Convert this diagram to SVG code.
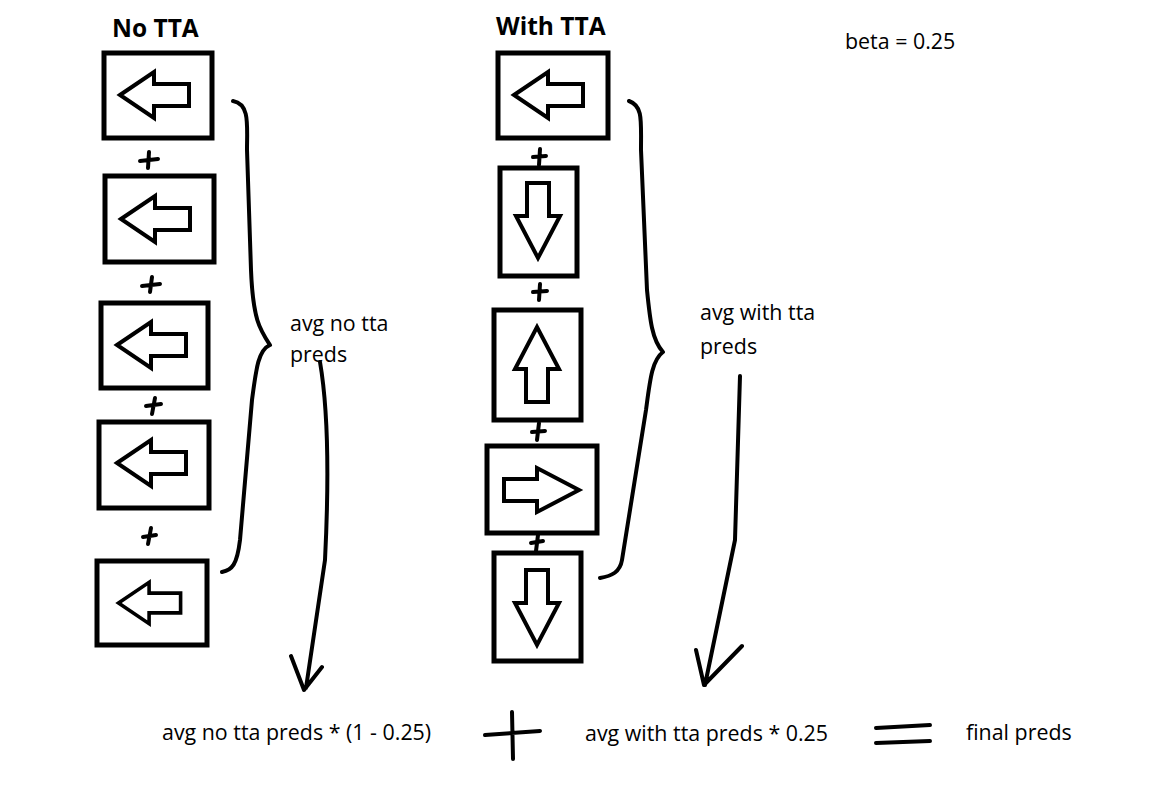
<svg xmlns="http://www.w3.org/2000/svg" width="1164" height="800" viewBox="0 0 1164 800">
<style>
.box{fill:#fff;stroke:#000;stroke-width:5}
.arr{fill:#fff;stroke:#000;stroke-width:4;stroke-linejoin:miter}
.ink{fill:none;stroke:#000;stroke-width:4;stroke-linecap:round;stroke-linejoin:round}
.t{font-family:"Open Sans",sans-serif;font-size:21.4px;fill:#000}
.h{font-family:"Open Sans",sans-serif;font-size:24.5px;font-weight:bold;fill:#000}
</style>
<defs>
<path id="left" d="M-35,0 L-1,-23 L-1,-11 L34,-11 L34,11 L-1,11 L-1,23 Z"/>
<path id="down" d="M-11,-38 L11,-38 L11,-5 L22,-5 L0,37 L-22,-5 L-11,-5 Z"/>
</defs>
<rect width="1164" height="800" fill="#fff"/>
<text class="h" x="112" y="37">No TTA</text>
<text class="h" x="496" y="35">With TTA</text>
<text class="t" x="845" y="49">beta = 0.25</text>
<g id="nl1"><rect class="box" x="104" y="53" width="108" height="85"/><use href="#left" class="arr" transform="translate(155,95)"/></g>
<g id="nl2"><rect class="box" x="105" y="176" width="109" height="86"/><use href="#left" class="arr" transform="translate(156,219)"/></g>
<g id="nl3"><rect class="box" x="101" y="303" width="107" height="85"/><use href="#left" class="arr" transform="translate(152,345)"/></g>
<g id="nl4"><rect class="box" x="99" y="422" width="110" height="86"/><use href="#left" class="arr" transform="translate(152,463)"/></g>
<g id="nl5"><rect class="box" x="97" y="561" width="110" height="84"/><use href="#left" class="arr" transform="translate(150,603) scale(0.9)"/></g>
<g id="wt1"><rect class="box" x="498" y="53" width="110" height="85"/><use href="#left" class="arr" transform="translate(549,95)"/></g>
<g id="wt2"><rect class="box" x="500" y="168" width="77" height="108"/><use href="#down" class="arr" transform="translate(538,221)"/></g>
<g id="wt3"><rect class="box" x="494" y="310" width="87" height="110"/><use href="#down" class="arr" transform="translate(537,364) rotate(180)"/></g>
<g id="wt4"><rect class="box" x="487" y="446" width="110" height="87"/><use href="#down" class="arr" transform="translate(542,490) rotate(-90)"/></g>
<g id="wt5"><rect class="box" x="494" y="553" width="87" height="108"/><use href="#down" class="arr" transform="translate(537,608)"/></g>
<g id="nl-label"><text class="t" x="290" y="331">avg no tta</text><text class="t" x="290" y="362">preds</text></g>
<g id="wt-label"><text class="t" x="700" y="320">avg with tta</text><text class="t" x="700" y="354">preds</text></g>
<g id="eq">
<text class="t" x="162" y="740">avg no tta preds * (1 - 0.25)</text>
<text class="t" x="585" y="741">avg with tta preds * 0.25</text>
<text class="t" x="966" y="740">final preds</text>
</g>
<g id="connectors">
<path class="ink" d="M140,161 L158,159 M149,152 L148,168"/>
<path class="ink" d="M142,286 L160,284 M152,277 L150,292"/>
<path class="ink" d="M146,406 L161,404 M155,398 L152,414"/>
<path class="ink" d="M143,537 L156,535 M151,528 L148,544"/>
<path class="ink" d="M533,157 L546,156 M540,149 L539,165"/>
<path class="ink" d="M533,292 L547,291 M540,284 L539,300"/>
<path class="ink" d="M532,432 L545,431 M539,423 L537,440"/>
<path class="ink" d="M531,543 L543,541 M538,535 L536,551"/>
<path class="ink" d="M233,101 C250,104 247,125 247,150 L251,270 C253,320 260,330 270,345 C258,350 256,370 252,400 L240,540 C237,565 232,570 222,572"/>
<path class="ink" d="M629,101 C643,106 641,120 641,150 L647,290 C650,320 652,340 663,352 C652,360 650,380 646,410 L622,560 C620,572 612,576 600,578"/>
<path class="ink" d="M320,362 C330,420 328,500 325,560 L306,688 M291,656 L304,690 L322,667"/>
<path class="ink" d="M740,376 L735,540 L705,685 M696,650 L704,685 L742,646"/>
<path class="ink" d="M485,735 L540,731 M512,712 L513,759" stroke-width="5"/>
<path class="ink" d="M876,728 L930,725 M876,743 L930,741" stroke-width="5"/>
</g>
</svg>
